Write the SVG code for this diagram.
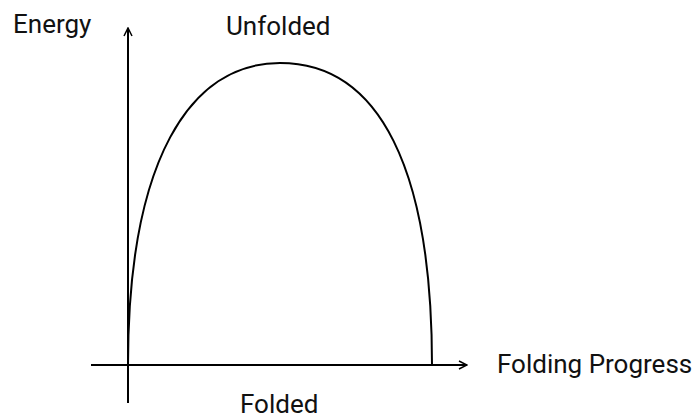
<svg xmlns="http://www.w3.org/2000/svg" width="698" height="416" viewBox="0 0 698 416">
<style>
text{font-family:Roboto,"Liberation Sans",sans-serif;font-size:26px;fill:#111}
.ax{stroke:#000;stroke-width:2;fill:none}
.curve{stroke:#000;stroke-width:2;fill:none}
</style>
<defs>
<marker id="arr" viewBox="0 0 10 10" refX="9" refY="5" markerWidth="10" markerHeight="10" markerUnits="userSpaceOnUse" orient="auto">
<path d="M1,1 L9,5 L1,9" fill="none" stroke="#000" stroke-width="1.5"/>
</marker>
</defs>
<g id="connectors">
<line class="ax" x1="128" y1="403" x2="128" y2="28" marker-end="url(#arr)"/>
<line class="ax" x1="91" y1="365" x2="467" y2="365" marker-end="url(#arr)"/>
<path id="curve" class="curve" d="M128,365 C128,160 190,63 280,63 C380,63 432,170 432,365"/>
</g>
<g id="energy"><text x="13" y="33">Energy</text></g>
<g id="unfolded"><text x="226" y="35">Unfolded</text></g>
<g id="progress"><text x="497" y="373">Folding Progress</text></g>
<g id="folded"><text x="240" y="413">Folded</text></g>
</svg>
